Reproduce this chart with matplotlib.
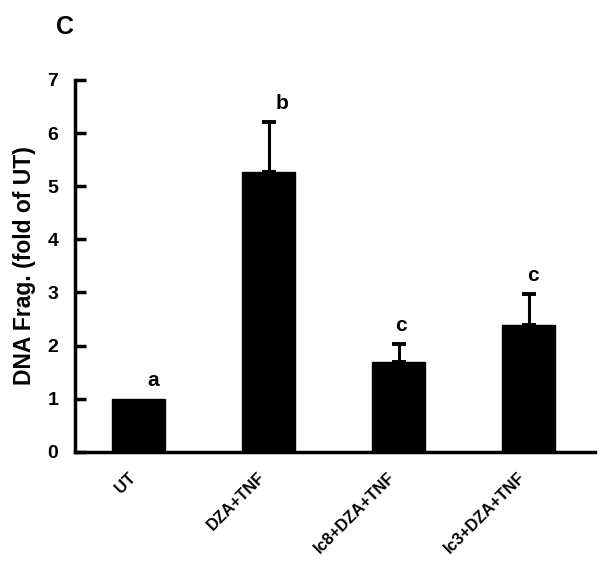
import matplotlib
matplotlib.use("Agg")
import matplotlib.pyplot as plt
import numpy as np

plt.rcParams['font.family'] = ['Liberation Sans', 'DejaVu Sans']
plt.rcParams['font.weight'] = 'bold'

categories = ["UT", "DZA+TNF", "Ic8+DZA+TNF", "Ic3+DZA+TNF"]
values = [1.0, 5.27, 1.70, 2.39]
errors = [0.0, 0.93, 0.33, 0.59]
letters = ["a", "b", "c", "c"]
letter_dx = [0.11, 0.10, 0.02, 0.03]

fig = plt.figure(figsize=(6.01, 5.67), dpi=100)
ax = fig.add_axes([0.125, 0.203, 0.865, 0.656])

x = np.arange(len(categories))
ax.bar(x, values, width=0.41, color='black', edgecolor='black')
err = np.array(errors)
mask = err > 0
ax.errorbar(x[mask], np.array(values)[mask], yerr=[np.zeros(mask.sum()), err[mask]],
            fmt='none', ecolor='black', elinewidth=2.2, capsize=5, capthick=2.8)

for i, (v, e, l) in enumerate(zip(values, errors, letters)):
    ax.text(i + letter_dx[i], v + e + 0.17, l, ha='center', va='bottom',
            fontsize=15, fontweight='bold')

ax.set_xlim(-0.49, 3.51)
ax.set_ylim(0, 7)
ax.set_yticks(range(0, 8))
ax.set_yticklabels([str(i) for i in range(0, 8)], fontsize=14, fontweight='bold')
ax.set_xticks(x)
ax.set_xticklabels([])
for i, c in enumerate(categories):
    ax.annotate(c, xy=(i, 0), xycoords='data', xytext=(-8, -13),
                textcoords='offset points', rotation=45, ha='right', va='top',
                rotation_mode='anchor', fontsize=11.8, fontweight='bold',
                annotation_clip=False)
ax.tick_params(axis='x', length=0)
ax.tick_params(axis='y', direction='in', length=8, width=2.5, pad=12)
for s in ['top', 'right']:
    ax.spines[s].set_visible(False)
for s in ['left', 'bottom']:
    ax.spines[s].set_linewidth(2.5)

ax.set_ylabel("DNA Frag. (fold of UT)", fontsize=16.5, fontweight='bold', labelpad=8)
fig.text(0.093, 0.974, "C", fontsize=18, fontweight='bold', ha='left', va='top')

fig.savefig("out.png", dpi=100)
